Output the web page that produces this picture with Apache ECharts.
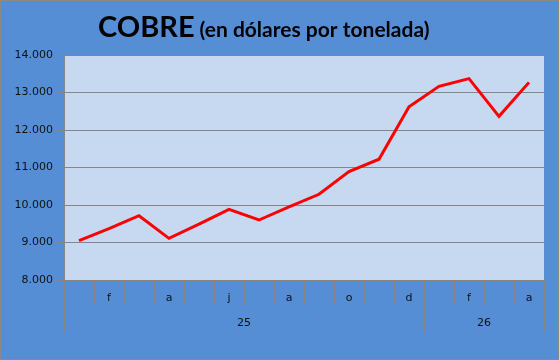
<!DOCTYPE html>
<html>
<head>
<meta charset="utf-8">
<script src="https://cdn.jsdelivr.net/npm/echarts@6/dist/echarts.min.js"></script>
<style>
  html, body { margin: 0; padding: 0; background: #558ED5; }
  #chart { width: 559px; height: 360px; box-sizing: border-box; border: 1px solid #8a8a8a; }
</style>
</head>
<body>
<div id="chart"></div>
<script>
const monthLabels = ['', 'f', '', 'a', '', 'j', '', 'a', '', 'o', '', 'd', '', 'f', '', 'a'];
const copperPrice = [9050, 9370, 9715, 9110, 9490, 9885, 9600, 9950, 10285, 10890, 11220, 12620, 13165, 13370, 12365, 13270];
const yearLabels = ['25', '26'];
const yearStartIndex = [0, 12];
const yTicks = { min: 8000, max: 14000, step: 1000 };

const nMonths = monthLabels.length;
const yearBounds = yearStartIndex.concat([nMonths]);
const yearCenters = yearLabels.map((_, i) => (yearBounds[i] + yearBounds[i + 1]) / 2);

const chart = echarts.init(document.getElementById('chart'), null, { renderer: 'canvas' });
const fmt = v => String(v).replace(/\B(?=(\d{3})+(?!\d))/g, '.');
const axisFont = { fontFamily: 'DejaVu Sans', fontSize: 11, color: '#111' };

chart.setOption({
  backgroundColor: '#558ED5',
  animation: false,
  title: {
    text: '{big|COBRE} {small|(en dólares por tonelada)}',
    left: 92,
    top: 7,
    textStyle: {
      rich: {
        big: { fontFamily: 'Lato', fontWeight: 'bold', fontSize: 29, color: '#000', verticalAlign: 'bottom' },
        small: { fontFamily: 'Lato', fontWeight: 'bold', fontSize: 21, color: '#000', verticalAlign: 'bottom', padding: [0, 0, 1, 0] }
      }
    }
  },
  grid: { left: 63, right: 14, top: 54, bottom: 79, containLabel: false, show: true, backgroundColor: '#C6D9F1', borderWidth: 0 },
  xAxis: [
    {
      type: 'category',
      data: monthLabels,
      boundaryGap: true,
      axisLine: { show: true, lineStyle: { color: '#868686', width: 1 } },
      axisTick: { show: true, interval: 0, length: 25, lineStyle: { color: '#868686' } },
      axisLabel: Object.assign({ interval: 0, margin: 13 }, axisFont),
      splitLine: { show: false }
    },
    {
      type: 'value',
      min: 0,
      max: nMonths,
      position: 'bottom',
      axisLine: { show: false },
      axisTick: { show: true, customValues: yearBounds, length: 52, lineStyle: { color: '#868686' } },
      axisLabel: Object.assign({
        customValues: yearCenters,
        margin: 38,
        formatter: v => yearLabels[yearCenters.indexOf(v)]
      }, axisFont),
      splitLine: { show: false }
    }
  ],
  yAxis: {
    type: 'value',
    min: yTicks.min,
    max: yTicks.max,
    interval: yTicks.step,
    axisLine: { show: true, lineStyle: { color: '#868686' } },
    axisTick: { show: true, length: 7, lineStyle: { color: '#868686' } },
    axisLabel: Object.assign({ formatter: fmt, margin: 11 }, axisFont),
    splitLine: { show: true, lineStyle: { color: '#868686', width: 1 } }
  },
  series: [{
    type: 'line',
    xAxisIndex: 0,
    data: copperPrice,
    symbol: 'none',
    lineStyle: { color: '#FF0000', width: 3, join: 'miter' },
    itemStyle: { color: '#FF0000' }
  }]
});
</script>
</body>
</html>
